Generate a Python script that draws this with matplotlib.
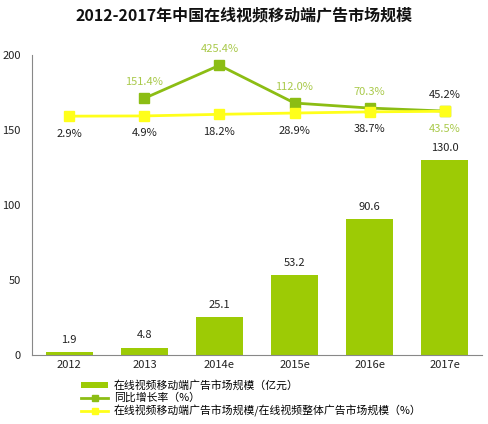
import matplotlib.pyplot as plt
import numpy as np
from matplotlib.lines import Line2D
from matplotlib.patches import Patch

plt.rcParams['font.family'] = ['Noto Sans CJK SC', 'DejaVu Sans']

years = ['2012', '2013', '2014e', '2015e', '2016e', '2017e']
market_size = [1.9, 4.8, 25.1, 53.2, 90.6, 130.0]
growth_years = ['2013', '2014e', '2015e', '2016e', '2017e']
growth_rate = [151.4, 425.4, 112.0, 70.3, 45.2]
share = [2.9, 4.9, 18.2, 28.9, 38.7, 43.5]

bar_color = '#9dcb05'
growth_color = '#8cbd14'
share_color = '#ffff1a'
label_green = '#a9c94a'

fig = plt.figure(figsize=(4.89, 4.24), dpi=100)
ax = fig.add_axes([0.065, 0.163, 0.921, 0.707])
x = np.arange(len(years))
ax.bar(x, market_size, 0.63, color=bar_color, zorder=2)
for xi, v in zip(x, market_size):
    ax.text(xi, v + 5, f'{v:.1f}', ha='center', va='bottom', fontsize=8, color='#222222')

ax.set_xlim(-0.5, len(years) - 0.5)
ax.set_ylim(0, 200)
ax.set_yticks([0, 50, 100, 150, 200])
ax.set_xticks(x)
ax.set_xticklabels(years)
ax.tick_params(length=0, labelsize=8, colors='#222222')
ax.tick_params(axis='y', pad=8)
for s in ['top', 'right']:
    ax.spines[s].set_visible(False)
ax.spines['left'].set_color('#888888')
ax.spines['bottom'].set_color('#888888')

# both lines share a hidden right-hand scale
ax2 = ax.twinx()
ax2.set_ylim(-1980, 510)
ax2.axis('off')
gx = [years.index(y) for y in growth_years]
ax2.plot(gx, growth_rate, color=growth_color, lw=2, marker='s', ms=7, zorder=3)
ax2.plot(x, share, color=share_color, lw=2, marker='s', ms=7, zorder=4)

for xi, v in zip(gx, growth_rate):
    c = '#222222' if v == growth_rate[-1] else label_green
    ax2.annotate(f'{v:.1f}%', (xi, v), xytext=(0, 8), textcoords='offset points',
                 ha='center', va='bottom', fontsize=8, color=c)
for xi, v in zip(x, share):
    c = label_green if xi == x[-1] else '#222222'
    ax2.annotate(f'{v:.1f}%', (xi, v), xytext=(0, -9), textcoords='offset points',
                 ha='center', va='top', fontsize=8, color=c)

fig.suptitle('2012-2017年中国在线视频移动端广告市场规模', x=0.5, y=0.984,
             fontsize=11.5, fontweight='bold', color='#111111')

handles = [
    Patch(facecolor=bar_color),
    Line2D([], [], color=growth_color, lw=2, marker='s', ms=4),
    Line2D([], [], color=share_color, lw=2, marker='s', ms=4),
]
labels = ['在线视频移动端广告市场规模（亿元）', '同比增长率（%）',
          '在线视频移动端广告市场规模/在线视频整体广告市场规模（%）']
fig.legend(handles, labels, loc='upper left', bbox_to_anchor=(0.155, 0.117),
           frameon=False, fontsize=7.8, handlelength=2.5, handleheight=0.5,
           labelspacing=0.2, handletextpad=0.5, borderpad=0)

fig.savefig('out.png', dpi=100)
